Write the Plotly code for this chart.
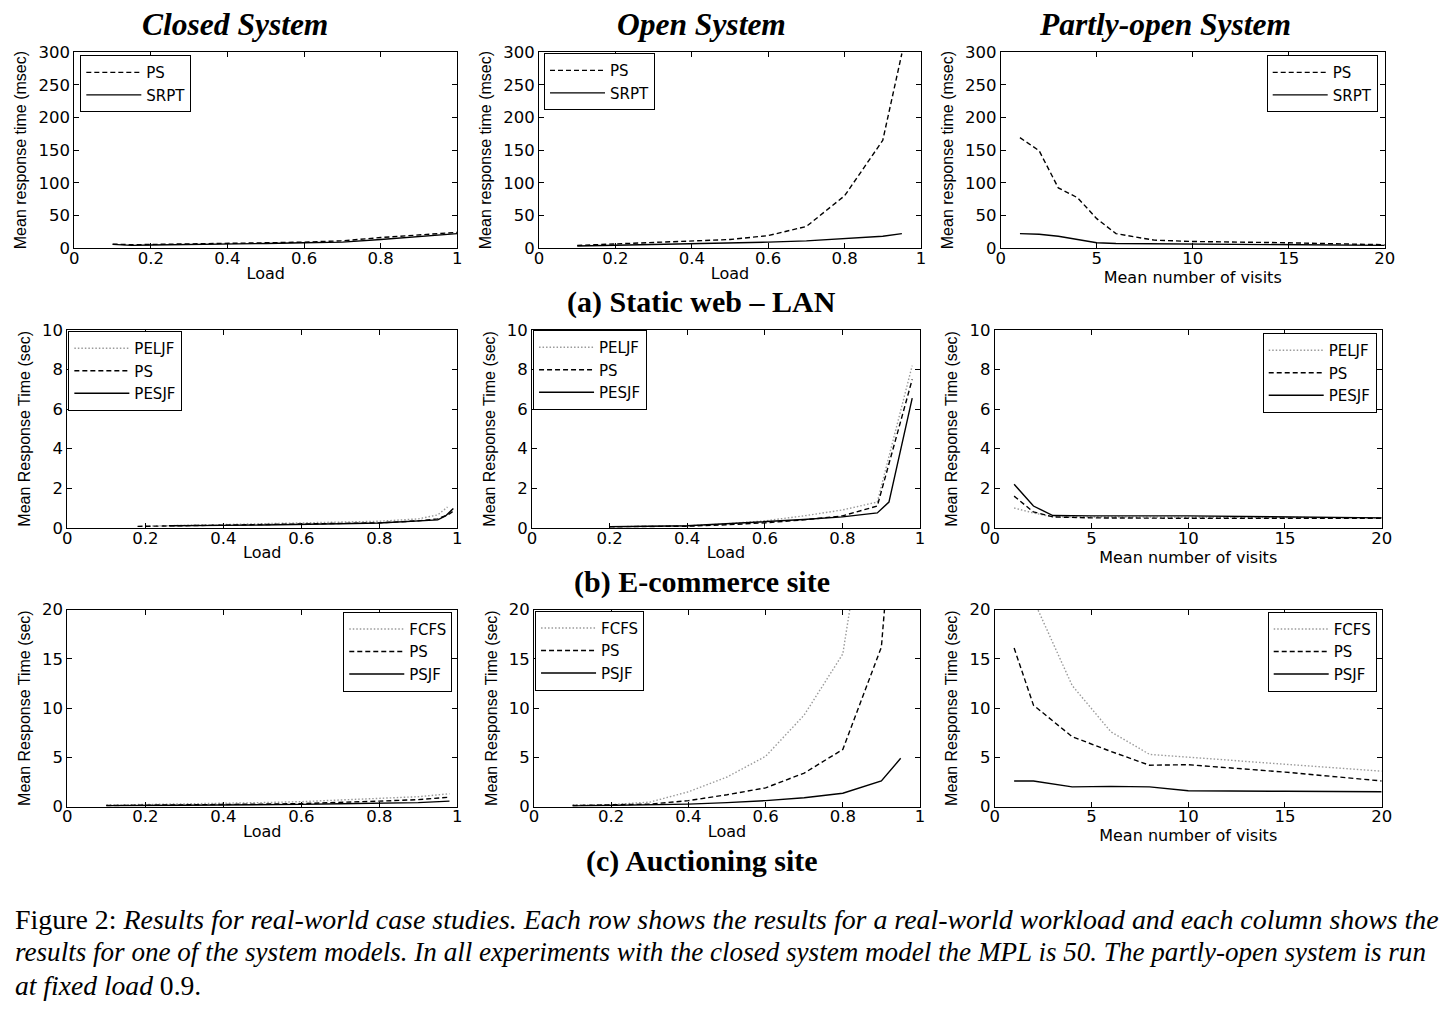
import plotly.graph_objects as go

# ---------------- data ----------------
# (a) Static web - LAN   (msec)
a_closed_x = [0.1, 0.15, 0.2, 0.3, 0.4, 0.5, 0.6, 0.7, 0.8, 0.9, 1.0]
a_closed_ps = [6, 5, 5.5, 6, 7, 8, 9, 11, 16, 20, 24]
a_closed_srpt = [5.5, 4, 4.5, 5, 6, 7, 8, 9, 13, 17, 22]

a_open_x = [0.1, 0.2, 0.3, 0.4, 0.5, 0.6, 0.7, 0.8, 0.9, 0.95]
a_open_ps = [4, 6, 8, 10, 13, 19, 33, 80, 165, 298]
a_open_srpt = [3, 4, 5, 6, 7, 9, 11, 14, 18, 22]

a_part_x = [1, 2, 3, 4, 5, 6, 8, 10, 15, 20]
a_part_ps = [169, 149, 92, 77, 45, 22, 12, 10, 8, 5]
a_part_srpt = [22, 21, 18, 13, 8, 7, 6.5, 6, 5, 4]

# (b) E-commerce site   (sec)
b_closed_peljf_x = [0.2, 0.3, 0.4, 0.5, 0.6, 0.7, 0.8, 0.9, 0.95, 0.975]
b_closed_peljf = [0.08, 0.12, 0.15, 0.18, 0.22, 0.28, 0.33, 0.45, 0.65, 1.05]
b_closed_ps_x = [0.18, 0.3, 0.4, 0.5, 0.6, 0.7, 0.8, 0.9, 0.95, 0.98, 0.99]
b_closed_ps = [0.07, 0.1, 0.12, 0.14, 0.17, 0.2, 0.25, 0.35, 0.45, 0.7, 0.85]
b_closed_pesjf_x = [0.26, 0.3, 0.4, 0.5, 0.6, 0.7, 0.8, 0.9, 0.95, 0.97, 0.99]
b_closed_pesjf = [0.1, 0.1, 0.12, 0.14, 0.16, 0.2, 0.24, 0.33, 0.4, 0.6, 0.98]

b_open_x = [0.2, 0.3, 0.4, 0.5, 0.6, 0.7, 0.8, 0.89, 0.98]
b_open_peljf = [0.05, 0.07, 0.1, 0.2, 0.35, 0.6, 0.9, 1.3, 8.2]
b_open_ps = [0.05, 0.06, 0.08, 0.15, 0.25, 0.4, 0.6, 1.1, 7.5]
b_open_pesjf_x = [0.2, 0.3, 0.4, 0.5, 0.6, 0.7, 0.8, 0.89, 0.92, 0.98]
b_open_pesjf = [0.05, 0.07, 0.1, 0.2, 0.3, 0.42, 0.55, 0.75, 1.3, 6.55]

b_part_x = [1, 2, 3, 5, 10, 15, 20]
b_part_peljf = [1.0, 0.75, 0.55, 0.55, 0.55, 0.52, 0.5]
b_part_ps = [1.6, 0.8, 0.55, 0.5, 0.48, 0.48, 0.48]
b_part_pesjf = [2.2, 1.1, 0.62, 0.6, 0.6, 0.55, 0.5]

# (c) Auctioning site   (sec)
c_closed_x = [0.1, 0.2, 0.3, 0.4, 0.5, 0.6, 0.7, 0.8, 0.9, 0.98]
c_closed_fcfs = [0.15, 0.2, 0.25, 0.3, 0.4, 0.5, 0.65, 0.8, 1.0, 1.3]
c_closed_ps = [0.1, 0.12, 0.15, 0.2, 0.25, 0.3, 0.4, 0.55, 0.7, 0.95]
c_closed_psjf = [0.08, 0.1, 0.12, 0.15, 0.18, 0.22, 0.28, 0.33, 0.4, 0.55]

c_open_fcfs_x = [0.1, 0.2, 0.3, 0.4, 0.5, 0.6, 0.7, 0.8, 0.85]
c_open_fcfs = [0.15, 0.2, 0.45, 1.5, 3.0, 5.1, 9.3, 15.5, 28]
c_open_x = [0.1, 0.2, 0.3, 0.4, 0.5, 0.6, 0.7, 0.8, 0.9, 0.95]
c_open_ps = [0.1, 0.15, 0.25, 0.6, 1.2, 1.9, 3.4, 5.8, 16.2, 40]
c_open_psjf = [0.05, 0.1, 0.15, 0.25, 0.4, 0.6, 0.9, 1.35, 2.6, 4.9]

c_part_x = [1, 2, 4, 6, 8, 10, 15, 20]
c_part_fcfs = [35, 21, 12.3, 7.6, 5.3, 5.0, 4.3, 3.6]
c_part_ps = [16.1, 10.3, 7.1, 5.6, 4.2, 4.25, 3.5, 2.6]
c_part_psjf = [2.6, 2.6, 2.0, 2.05, 2.0, 1.6, 1.55, 1.5]

col_titles = ["Closed System", "Open System", "Partly-open System"]
row_titles = ["(a) Static web \u2013 LAN", "(b) E-commerce site", "(c) Auctioning site"]
y_titles = ["Mean response time (msec)", "Mean Response Time (sec)", "Mean Response Time (sec)"]
x_titles = ["Load", "Load", "Mean number of visits"]
y_ranges = [[0, 300], [0, 10], [0, 20]]
y_dticks = [50, 2, 5]
x_ranges = [[0, 1], [0, 1], [0, 20]]
x_dticks = [0.2, 0.2, 5]

# ---------------- layout helpers ----------------
W, H = 1448, 1010
# map target window pixels to figure paper fractions (page offset/scale measured empirically)
OX, SX = 12.5, 0.9917
OY, SY = 16.8, 0.982
def px(v):
    return max(0.0, (v - OX) / SX) / W
def py(v):
    return 1 - max(0.0, (v - OY) / SY) / H

# pixel boxes (window coords) of each plot area: (left, right, top, bottom)
boxes = [
    [(74, 458, 52, 248), (540, 923, 52, 248), (1003, 1388, 52, 248)],
    [(67, 458, 330, 528), (533, 922, 330, 528), (997, 1385, 330, 528)],
    [(67, 458, 610, 807), (535, 922, 610, 807), (997, 1385, 610, 807)],
]
# legend anchor (x px, y px, xanchor)
legend_pos = [
    [(80, 55, "left"), (545, 53, "left"), (1381, 55, "right")],
    [(68, 331, "left"), (534, 330, "left"), (1380, 333, "right")],
    [(453, 612, "right"), (536, 611, "left"), (1380, 612, "right")],
]

SOLID = dict(color="black", width=1.4)
DASH = dict(color="black", width=1.4, dash="5px,3px")
DOT = dict(color="#9a9a9a", width=1.4, dash="1.5px,2px")

panels = [
    [
        [("PS", a_closed_x, a_closed_ps, DASH), ("SRPT", a_closed_x, a_closed_srpt, SOLID)],
        [("PS", a_open_x, a_open_ps, DASH), ("SRPT", a_open_x, a_open_srpt, SOLID)],
        [("PS", a_part_x, a_part_ps, DASH), ("SRPT", a_part_x, a_part_srpt, SOLID)],
    ],
    [
        [("PELJF", b_closed_peljf_x, b_closed_peljf, DOT), ("PS", b_closed_ps_x, b_closed_ps, DASH),
         ("PESJF", b_closed_pesjf_x, b_closed_pesjf, SOLID)],
        [("PELJF", b_open_x, b_open_peljf, DOT), ("PS", b_open_x, b_open_ps, DASH),
         ("PESJF", b_open_pesjf_x, b_open_pesjf, SOLID)],
        [("PELJF", b_part_x, b_part_peljf, DOT), ("PS", b_part_x, b_part_ps, DASH),
         ("PESJF", b_part_x, b_part_pesjf, SOLID)],
    ],
    [
        [("FCFS", c_closed_x, c_closed_fcfs, DOT), ("PS", c_closed_x, c_closed_ps, DASH),
         ("PSJF", c_closed_x, c_closed_psjf, SOLID)],
        [("FCFS", c_open_fcfs_x, c_open_fcfs, DOT), ("PS", c_open_x, c_open_ps, DASH),
         ("PSJF", c_open_x, c_open_psjf, SOLID)],
        [("FCFS", c_part_x, c_part_fcfs, DOT), ("PS", c_part_x, c_part_ps, DASH),
         ("PSJF", c_part_x, c_part_psjf, SOLID)],
    ],
]

TICKFONT = dict(family="DejaVu Sans, Liberation Sans, sans-serif", size=16.5, color="black")
YTFONT = dict(family="Liberation Sans Narrow, Liberation Sans, Arial, sans-serif", size=16, color="black")
XTFONT = dict(family="DejaVu Sans, Liberation Sans, sans-serif", size=16, color="black")
LEGFONT = dict(family="DejaVu Sans, Liberation Sans, sans-serif", size=15, color="black")

fig = go.Figure()
layout = dict(
    width=W, height=H,
    margin=dict(l=0, r=0, t=0, b=0),
    paper_bgcolor="white", plot_bgcolor="white",
    showlegend=True,
)

for r in range(3):
    for c in range(3):
        p = r * 3 + c
        sfx = "" if p == 0 else str(p + 1)
        xa, ya = "x" + sfx, "y" + sfx
        leg = "legend" + sfx
        for name, xs, ys, ln in panels[r][c]:
            fig.add_trace(go.Scatter(x=xs, y=ys, mode="lines", name=name, line=ln,
                                     xaxis=xa, yaxis=ya, legend=leg))
        L, R, T, B = boxes[r][c]
        common = dict(showgrid=False, zeroline=False, showline=True, linecolor="black",
                      linewidth=1, mirror="allticks", ticks="inside", ticklen=5,
                      tickcolor="black", tickwidth=1, tickfont=TICKFONT)
        layout["xaxis" + sfx] = dict(
            domain=[px(L), px(R)], anchor=ya, range=x_ranges[c], dtick=x_dticks[c], tick0=0,
            title=dict(text=x_titles[c], font=XTFONT, standoff=0), ticklabelstandoff=-5, **common)
        layout["yaxis" + sfx] = dict(
            domain=[py(B), py(T)], anchor=xa, range=y_ranges[r], dtick=y_dticks[r], tick0=0,
            title=dict(text=y_titles[r], font=YTFONT, standoff=7), **common)
        lx, ly, xan = legend_pos[r][c]
        layout[leg] = dict(x=px(lx), y=py(ly), xanchor=xan, yanchor="top", xref="paper", yref="paper",
                           bgcolor="white", bordercolor="black", borderwidth=1, font=LEGFONT,
                           tracegroupgap=0, itemwidth=55, traceorder="normal")

fig.update_layout(**layout)

SERIF = "Liberation Serif, Times New Roman, serif"
annos = []
for c, (t, cx) in enumerate(zip(col_titles, [235, 703, 1168])):
    annos.append(dict(text="<b><i>%s</i></b>" % t, x=px(cx), y=py(24), xref="paper", yref="paper",
                      showarrow=False, xanchor="center", yanchor="middle",
                      font=dict(family=SERIF, size=31.5, color="black")))
for r, (t, cy) in enumerate(zip(row_titles, [302, 582, 861])):
    annos.append(dict(text="<b>%s</b>" % t, x=px(703), y=py(cy), xref="paper", yref="paper",
                      showarrow=False, xanchor="center", yanchor="middle",
                      font=dict(family=SERIF, size=30, color="black")))
caption = [
    "Figure 2: <i>Results for real-world case studies. Each row shows the results for a real-world workload and each column shows the</i>",
    "<i>results for one of the system models. In all experiments with the closed system model the MPL is 50. The partly-open system is run</i>",
    "<i>at fixed load</i> 0.9.",
]
caption_sizes = [27.9, 27.1, 27.6]
for line, cy, fs in zip(caption, [920, 953, 986], caption_sizes):
    annos.append(dict(text=line, x=px(10), y=py(cy), xref="paper", yref="paper",
                      showarrow=False, xanchor="left", yanchor="middle",
                      font=dict(family=SERIF, size=fs, color="black")))
fig.update_layout(annotations=annos)

fig.write_html("out.html")
